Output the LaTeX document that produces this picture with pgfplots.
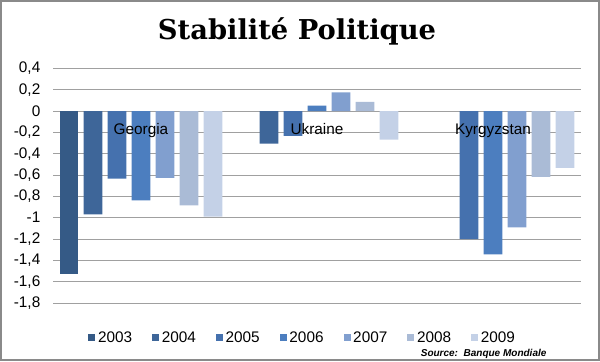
\documentclass[border=0pt]{standalone}
\usepackage{pgfplots}
\pgfplotsset{compat=1.18}
\usepackage{fontspec}
\setmainfont{Liberation Sans}
\newfontfamily\titlefont{DejaVu Serif}
\definecolor{c2003}{HTML}{355A86}
\definecolor{c2004}{HTML}{3E6699}
\definecolor{c2005}{HTML}{4571AE}
\definecolor{c2006}{HTML}{4C7EBF}
\definecolor{c2007}{HTML}{819FCF}
\definecolor{c2008}{HTML}{AABBD6}
\definecolor{c2009}{HTML}{C4D1E7}
\definecolor{gridgray}{HTML}{A0A0A0}
\definecolor{bordergray}{HTML}{8A8A8A}
\pgfplotsset{common/.style={
  at={(39.75pt,43.5pt)}, anchor=south west, scale only axis,
  width=396pt, height=176pt,
  xmin=-0.5, xmax=2.5, ymin=-1.8, ymax=0.4,
  major tick length=0pt,
  tick label style={font=\fontsize{11.5}{13}\selectfont},
}}
\begin{document}
\begin{tikzpicture}
\useasboundingbox (0,0) rectangle (450pt,270.75pt);
\draw[color=bordergray, line width=1.5pt] (0.75pt,0.75pt) rectangle (449.25pt,270pt);
\node[anchor=base, inner sep=0pt, font=\titlefont\bfseries\fontsize{20.5}{24}\selectfont] at (222.75pt,241.3pt) {Stabilité Politique};
\node[anchor=base east, inner sep=0pt, font=\bfseries\itshape\fontsize{7.5}{9}\selectfont] at (410pt,3.75pt) {Source:\ \ Banque Mondiale};
\begin{axis}[
  common,
  ybar=4pt, bar width=14pt,
  axis y line*=left, axis x line*=bottom,
  axis line style={draw=none},
  xtick=\empty,
  ytick={-1.8,-1.6,-1.4,-1.2,-1,-0.8,-0.6,-0.4,-0.2,0,0.2,0.4},
  ymajorgrids, grid style={gridgray, line width=0.75pt},
  yticklabel style={xshift=-6pt, /pgf/number format/use comma, /pgf/number format/fixed, /pgf/number format/precision=1, /pgf/number format/assume math mode=true},
  legend style={at={(0.4735,-0.148)}, anchor=center, draw=none, fill=none,
    legend columns=-1, font=\fontsize{11.5}{13}\selectfont,
    /tikz/every even column/.append style={column sep=13pt}},
  legend image code/.code={\fill[#1] (0pt,-2.6pt) rectangle (5.25pt,2.6pt);},
]
\addplot[fill=c2003, draw=none] coordinates {(0,-1.53)};
\addplot[fill=c2004, draw=none] coordinates {(0,-0.97) (1,-0.306)};
\addplot[fill=c2005, draw=none] coordinates {(0,-0.634) (1,-0.234) (2,-1.20)};
\addplot[fill=c2006, draw=none] coordinates {(0,-0.837) (1,0.05) (2,-1.343)};
\addplot[fill=c2007, draw=none] coordinates {(0,-0.628) (1,0.175) (2,-1.09)};
\addplot[fill=c2008, draw=none] coordinates {(0,-0.884) (1,0.085) (2,-0.618)};
\addplot[fill=c2009, draw=none] coordinates {(0,-0.99) (1,-0.268) (2,-0.534)};
\legend{2003,2004,2005,2006,2007,2008,2009}
\end{axis}
\begin{axis}[
  common,
  axis x line*=middle, hide y axis,
  axis line style={draw=none},
  hide obscured x ticks=false,
  xtick={0,1,2}, xticklabels={Georgia,Ukraine,Kyrgyzstan},
  xticklabel style={yshift=-6pt},
]
\end{axis}
\end{tikzpicture}
\end{document}
